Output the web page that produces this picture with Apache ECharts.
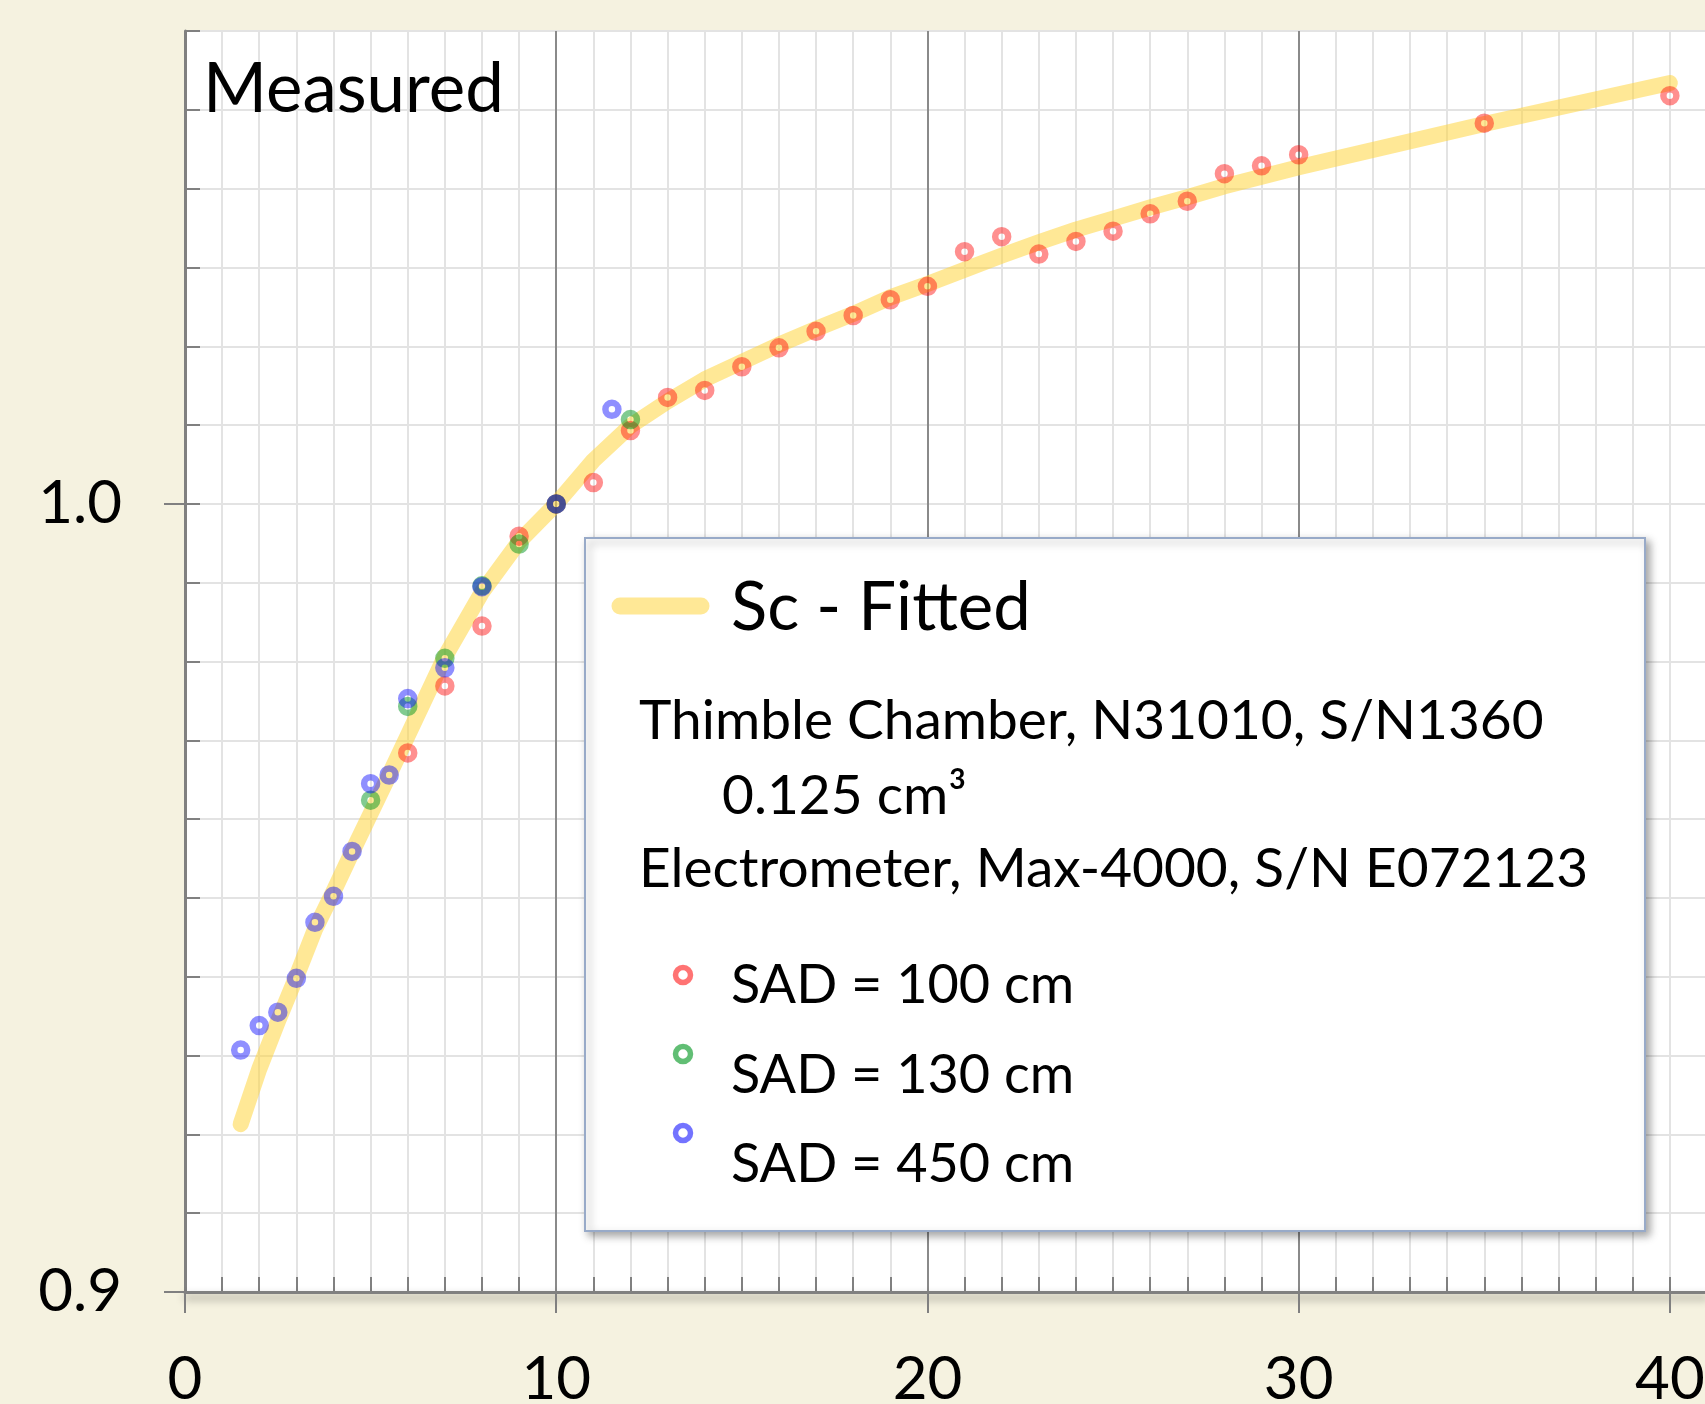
<!DOCTYPE html>
<html>
<head>
<meta charset="utf-8">
<title>Sc - Measured</title>
<script src="https://cdn.jsdelivr.net/npm/echarts@6/dist/echarts.min.js"></script>
<style>
  html, body { margin: 0; padding: 0; background: #f5f2e0; }
  #scChart { width: 1705px; height: 1404px; }
</style>
</head>
<body>
<div id="scChart"></div>
<script>
// fitted Sc curve (field size in cm, relative output)
const fitX = [1.5, 2, 2.5, 3, 3.5, 4, 4.5, 5, 5.5, 6, 7, 8, 9, 10, 11, 12, 13, 14, 15, 16, 17, 18, 19, 20,
  21, 22, 23, 24, 25, 26, 27, 28, 29, 30, 35, 40];
const fitY = [0.9213, 0.9283, 0.9343, 0.9400, 0.9460, 0.9508, 0.9558, 0.9607, 0.9656, 0.9706, 0.9806, 0.9888,
  0.9952, 1.0000, 1.0055, 1.0099, 1.0130, 1.0158, 1.0180, 1.0202, 1.0222, 1.0241, 1.0262, 1.0279,
  1.0297, 1.0315, 1.0332, 1.0348, 1.0362, 1.0376, 1.0389, 1.0403, 1.0415, 1.0427, 1.0482, 1.0534];

// measured points, SAD = 100 cm
const sad100X = [6, 7, 8, 9, 10, 11, 12, 13, 14, 15, 16, 17, 18, 19, 20, 21, 22, 23, 24, 25, 26, 27, 28, 29, 30, 35, 40];
const sad100Y = [0.9684, 0.9769, 0.9845, 0.9959, 1.0000, 1.0027, 1.0093, 1.0135, 1.0144, 1.0174, 1.0198, 1.0219,
  1.0239, 1.0259, 1.0276, 1.0320, 1.0339, 1.0317, 1.0333, 1.0346, 1.0368, 1.0384, 1.0419, 1.0429, 1.0443, 1.0483, 1.0518];

// SAD = 130 cm
const sad130X = [5, 6, 7, 8, 9, 10, 12];
const sad130Y = [0.9624, 0.9743, 0.9804, 0.9896, 0.9949, 1.0000, 1.0107];

// SAD = 450 cm
const sad450X = [1.5, 2, 2.5, 3, 3.5, 4, 4.5, 5, 5.5, 6, 7, 8, 10, 11.5];
const sad450Y = [0.9307, 0.9338, 0.9355, 0.9398, 0.9469, 0.9502, 0.9559, 0.9645, 0.9656, 0.9753, 0.9792, 0.9895, 1.0000, 1.0120];

const xTickLabels = [0, 10, 20, 30, 40];
const yTickLabels = [0.9, 1.0];

const legendLines = [
  'Thimble Chamber, N31010, S/N1360',
  '0.125 cm³',
  'Electrometer, Max-4000, S/N E072123'
];
const seriesNames = ['Sc - Fitted', 'SAD = 100 cm', 'SAD = 130 cm', 'SAD = 450 cm'];

const FONT = 'Lato';
const fitColor = 'rgba(255, 214, 64, 0.55)';
const ringColors = ['rgba(255, 0, 0, 0.55)', 'rgba(0, 150, 30, 0.62)', 'rgba(0, 0, 255, 0.55)'];

function pairs(xs, ys) {
  return xs.map((x, i) => [x, ys[i]]);
}

function ringSeries(name, xs, ys, color) {
  return {
    name: name,
    type: 'scatter',
    symbol: 'circle',
    symbolSize: 13,
    itemStyle: { color: 'rgba(0,0,0,0)', borderColor: color, borderWidth: 6.5 },
    emphasis: { disabled: true },
    z: 3,
    data: pairs(xs, ys)
  };
}

const gray = '#808080';

let scChart = echarts.init(document.getElementById('scChart'));

let option = {
  backgroundColor: '#f5f2e0',
  animation: false,
  title: {
    text: 'Measured',
    left: 203,
    top: 55,
    padding: 0,
    textStyle: { fontFamily: FONT, fontSize: 69, fontWeight: 'normal', color: '#000' }
  },
  grid: {
    left: 185,
    top: 31,
    right: -2,
    bottom: 112,
    show: true,
    backgroundColor: '#fff',
    borderWidth: 0,
    outerBoundsMode: 'none'
  },
  xAxis: [
    // minor grid + inner ticks
    {
      type: 'value', min: 0, max: 41, interval: 1, position: 'bottom', z: 0,
      axisLine: { show: false },
      axisTick: { show: true, inside: true, length: 15, lineStyle: { color: gray, width: 2 } },
      axisLabel: { show: false },
      splitLine: { show: true, lineStyle: { color: '#e3e3e3', width: 2 } }
    },
    // major grid, axis line, labels
    {
      type: 'value', min: 0, max: 41, interval: 10, position: 'bottom', z: 1,
      axisLine: {
        show: true, onZero: false,
        lineStyle: { color: gray, width: 3, shadowBlur: 8, shadowOffsetY: 5, shadowColor: 'rgba(0,0,0,0.45)' }
      },
      axisTick: { show: true, inside: false, length: 21, customValues: xTickLabels, lineStyle: { color: gray, width: 2 } },
      axisLabel: {
        show: true, margin: 58, fontFamily: FONT, fontSize: 60, color: '#000',
        customValues: xTickLabels,
        formatter: v => (v % 10 === 0 ? String(v) : '')
      },
      splitLine: { show: true, showMinLine: false, showMaxLine: false, lineStyle: { color: '#8a8a8a', width: 2 } }
    }
  ],
  yAxis: [
    {
      type: 'value', min: 0.9, max: 1.06, interval: 0.01, position: 'left', z: 0,
      axisLine: { show: false },
      axisTick: { show: true, inside: true, length: 15, lineStyle: { color: gray, width: 2 } },
      axisLabel: { show: false },
      splitLine: { show: true, lineStyle: { color: '#e3e3e3', width: 2 } }
    },
    {
      type: 'value', min: 0.9, max: 1.06, interval: 0.1, position: 'left', z: 1,
      axisLine: { show: true, onZero: false, lineStyle: { color: gray, width: 3 } },
      axisTick: { show: true, inside: false, length: 21, customValues: yTickLabels, lineStyle: { color: gray, width: 2 } },
      axisLabel: {
        show: true, margin: 63, fontFamily: FONT, fontSize: 60, color: '#000',
        customValues: yTickLabels,
        formatter: v => (Math.round(v * 100) % 10 === 0 ? v.toFixed(1) : '')
      },
      splitLine: { show: true, showMinLine: false, showMaxLine: false, lineStyle: { color: '#8a8a8a', width: 2 } }
    }
  ],
  series: [
    {
      name: seriesNames[0],
      type: 'line',
      showSymbol: false,
      smooth: false,
      lineStyle: { color: fitColor, width: 16, cap: 'round', join: 'round' },
      itemStyle: { color: fitColor },
      emphasis: { disabled: true },
      z: 2,
      data: pairs(fitX, fitY)
    },
    ringSeries(seriesNames[1], sad100X, sad100Y, ringColors[0]),
    ringSeries(seriesNames[2], sad130X, sad130Y, ringColors[1]),
    ringSeries(seriesNames[3], sad450X, sad450Y, ringColors[2])
  ],
  // legend box drawn by hand, the layout is not a standard legend
  graphic: [
    {
      type: 'rect', z: 10,
      shape: { x: 585, y: 538, width: 1060, height: 693 },
      style: {
        fill: '#fff', stroke: '#98aac8', lineWidth: 2,
        shadowBlur: 8, shadowOffsetX: 4, shadowOffsetY: 4, shadowColor: 'rgba(0,0,0,0.35)'
      }
    },
    {
      type: 'line', z: 11,
      shape: { x1: 620, y1: 606, x2: 701, y2: 606 },
      style: { stroke: fitColor, lineWidth: 17, lineCap: 'round' }
    },
    {
      type: 'text', z: 11, x: 731, y: 608,
      style: { text: seriesNames[0], font: '67px ' + FONT, fill: '#000', verticalAlign: 'middle' }
    },
    {
      type: 'text', z: 11, x: 639, y: 721,
      style: { text: legendLines[0], font: '55px ' + FONT, fill: '#000', verticalAlign: 'middle' }
    },
    {
      type: 'text', z: 11, x: 722, y: 796,
      style: { text: legendLines[1], font: '55px ' + FONT, fill: '#000', verticalAlign: 'middle' }
    },
    {
      type: 'text', z: 11, x: 639, y: 869,
      style: { text: legendLines[2], font: '55px ' + FONT, fill: '#000', verticalAlign: 'middle' }
    },
    {
      type: 'circle', z: 11, shape: { cx: 683, cy: 975, r: 7.5 },
      style: { fill: 'none', stroke: ringColors[0], lineWidth: 5.5 }
    },
    {
      type: 'text', z: 11, x: 731, y: 986,
      style: { text: seriesNames[1], font: '54px ' + FONT, fill: '#000', verticalAlign: 'middle' }
    },
    {
      type: 'circle', z: 11, shape: { cx: 683, cy: 1054, r: 7.5 },
      style: { fill: 'none', stroke: ringColors[1], lineWidth: 5.5 }
    },
    {
      type: 'text', z: 11, x: 731, y: 1076,
      style: { text: seriesNames[2], font: '54px ' + FONT, fill: '#000', verticalAlign: 'middle' }
    },
    {
      type: 'circle', z: 11, shape: { cx: 683, cy: 1133, r: 7.5 },
      style: { fill: 'none', stroke: ringColors[2], lineWidth: 5.5 }
    },
    {
      type: 'text', z: 11, x: 731, y: 1165,
      style: { text: seriesNames[3], font: '54px ' + FONT, fill: '#000', verticalAlign: 'middle' }
    }
  ]
};

scChart.setOption(option);
</script>
</body>
</html>
